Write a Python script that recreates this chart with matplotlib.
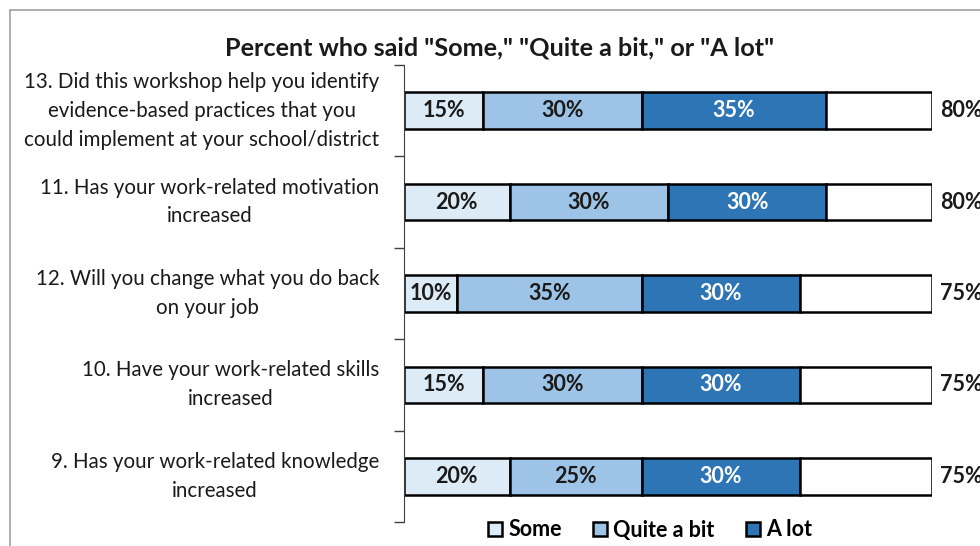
import numpy as np
import matplotlib.pyplot as plt
from matplotlib.patches import Rectangle

plt.rcParams['font.family'] = ['Lato', 'DejaVu Sans']

questions = [
    "13. Did this workshop help you identify\nevidence-based practices that you\ncould implement at your school/district",
    "11. Has your work-related motivation\nincreased",
    "12. Will you change what you do back\non your job",
    "10. Have your work-related skills\nincreased",
    "9. Has your work-related knowledge\nincreased",
]
some = [15, 20, 10, 15, 20]
quite = [30, 30, 35, 30, 25]
alot = [35, 30, 30, 30, 30]
totals = [80, 80, 75, 75, 75]

series_names = ["Some", "Quite a bit", "A lot"]
colors = ["#DDEBF7", "#9DC3E6", "#2E75B6"]
text_colors = ["#1a1a1a", "#1a1a1a", "white"]

fig = plt.figure(figsize=(9.8, 5.46), dpi=100)
ax = fig.add_axes([404 / 980, 1 - 522 / 546, 528 / 980, (522 - 65) / 546])

n = len(questions)
y = np.arange(n)[::-1]
h = 0.4
left = np.zeros(n)
handles = []
for vals, name, col, tc in zip([some, quite, alot], series_names, colors, text_colors):
    vals = np.array(vals)
    b = ax.barh(y, vals, left=left, height=h, color=col, edgecolor='black', linewidth=1.8, label=name)
    handles.append(b)
    for yi, l, v in zip(y, left, vals):
        ax.text(l + v / 2, yi, f"{v}%", ha='center', va='center', fontsize=15.5, fontweight='bold', color=tc)
    left = left + vals

# remaining part of the bar up to 100%
ax.barh(y, 100 - left, left=left, height=h, color='white', edgecolor='black', linewidth=1.8)
for yi, t in zip(y, totals):
    ax.text(1.5 + 100, yi, f"{t}%", ha='left', va='center', fontsize=15.5, fontweight='bold', color='#1a1a1a', clip_on=False)

for yi, q in zip(y, questions):
    ax.text(-4.7, yi, q, ha='right', va='center', multialignment='center', fontsize=14.8, color='#1a1a1a', linespacing=1.55)

ax.set_xlim(0, 100)
ax.set_ylim(-0.5, n - 0.5)
ax.set_xticks([])
ax.set_yticks(np.arange(-0.5, n, 1.0))
ax.set_yticklabels([])
ax.tick_params(axis='y', length=7, width=1, color='#404040')
for s in ['top', 'right', 'bottom']:
    ax.spines[s].set_visible(False)
ax.spines['left'].set_color('#404040')

fig.text(500 / 980, 1 - 48 / 546, 'Percent who said "Some," "Quite a bit," or "A lot"',
         ha='center', va='center', fontsize=18.2, fontweight='bold', color='#1a1a1a')

fig.legend(handles=handles, labels=series_names, loc='center', bbox_to_anchor=(650 / 980, 1 - 530 / 546),
           ncol=3, frameon=False, prop={'weight': 'bold', 'size': 15.5}, handlelength=0.65, handleheight=0.65,
           handletextpad=0.3, columnspacing=1.45, borderpad=0)

fig.patches.append(Rectangle((10 / 980, -0.1), 1.2, 1 - 10 / 546 + 0.1, transform=fig.transFigure,
                             fill=False, edgecolor='#a0a0a0', linewidth=1.2))

fig.savefig('out.png', dpi=100)
